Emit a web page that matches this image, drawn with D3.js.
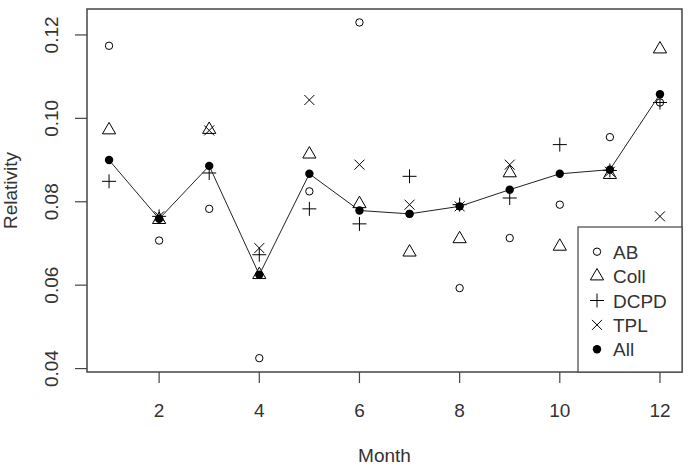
<!DOCTYPE html>
<html><head><meta charset="utf-8">
<script src="https://cdn.jsdelivr.net/npm/d3@7"></script>
<style>body{margin:0;background:#fff}svg{display:block}text{font-family:"Liberation Sans",Arial,sans-serif;fill:#333}</style>
</head><body><svg id="c" width="688" height="465"></svg>
<script>
const months = [1,2,3,4,5,6,7,8,9,10,11,12];
const AB   = [0.1174,0.0707,0.0783,0.0425,0.0825,0.1230,0.0771,0.0593,0.0713,0.0793,0.0955,0.1038];
const Coll = [0.0972,0.0757,0.0973,0.0625,0.0914,0.0795,0.0679,0.0711,0.0869,0.0693,0.0865,0.1166];
const DCPD = [0.0849,0.0765,0.0869,0.0673,0.0783,0.0747,0.0861,0.0793,0.0809,0.0937,0.0875,0.1038];
const TPL  = [null,0.0765,0.0971,0.0689,0.1044,0.0889,0.0793,0.0789,0.0889,null,0.0872,0.0765];
const All  = [0.0900,0.0759,0.0886,0.0625,0.0867,0.0779,0.0771,0.0789,0.0829,0.0867,0.0877,0.1058];
const xTicks = [2,4,6,8,10,12];
const yTicks = [0.04,0.06,0.08,0.10,0.12];
const seriesNames = ["AB","Coll","DCPD","TPL","All"];

const svg = d3.select("#c");
const L=87, R=682, T=9, B=372;
const x = d3.scaleLinear().domain([0.56,12.44]).range([L,R]);
const y = d3.scaleLinear().domain([0.03918,0.12622]).range([B,T]);
const FS = 19;

function sym(g, type, cx, cy){
  if(type==="AB") g.append("circle").attr("cx",cx).attr("cy",cy).attr("r",3.7).attr("fill","none").attr("stroke","#000").attr("stroke-width",1);
  else if(type==="Coll"){
    const s=6.6, h=s*Math.sqrt(3);
    const pts=[[cx,cy-h*2/3],[cx-s,cy+h/3],[cx+s,cy+h/3]];
    g.append("path").attr("d","M"+pts.map(p=>p.join(",")).join("L")+"Z").attr("fill","none").attr("stroke","#000").attr("stroke-width",1);
  } else if(type==="DCPD"){
    const s=7;
    g.append("path").attr("d",`M${cx-s},${cy}L${cx+s},${cy}M${cx},${cy-s}L${cx},${cy+s}`).attr("stroke","#000").attr("stroke-width",1);
  } else if(type==="TPL"){
    const s=5;
    g.append("path").attr("d",`M${cx-s},${cy-s}L${cx+s},${cy+s}M${cx-s},${cy+s}L${cx+s},${cy-s}`).attr("stroke","#000").attr("stroke-width",1);
  } else {
    g.append("circle").attr("cx",cx).attr("cy",cy).attr("r",4.2).attr("fill","#000");
  }
}

const data = {AB, Coll, DCPD, TPL, All};
const pg = svg.append("g");
["AB","Coll","DCPD","TPL"].forEach(n=>{
  months.forEach((m,i)=>{ if(data[n][i]!=null) sym(pg,n,x(m),y(data[n][i])); });
});
pg.append("path").datum(months.map((m,i)=>[m,All[i]]))
  .attr("d",d3.line().x(d=>x(d[0])).y(d=>y(d[1])))
  .attr("fill","none").attr("stroke","#222").attr("stroke-width",1);
months.forEach((m,i)=>sym(pg,"All",x(m),y(All[i])));

svg.append("rect").attr("x",L).attr("y",T).attr("width",R-L).attr("height",B-T)
  .attr("fill","none").attr("stroke","#444").attr("stroke-width",1.5);

const xa = svg.append("g");
xTicks.forEach(t=>{
  xa.append("line").attr("x1",x(t)).attr("x2",x(t)).attr("y1",B).attr("y2",B+11).attr("stroke","#444").attr("stroke-width",1.2);
  xa.append("text").attr("x",x(t)).attr("y",417).attr("text-anchor","middle").attr("font-size",FS).text(t);
});
const ya = svg.append("g");
yTicks.forEach(t=>{
  ya.append("line").attr("x1",L-12).attr("x2",L).attr("y1",y(t)).attr("y2",y(t)).attr("stroke","#444").attr("stroke-width",1.2);
  ya.append("text").attr("transform",`translate(58,${y(t)}) rotate(-90)`).attr("text-anchor","middle").attr("font-size",FS).text(t.toFixed(2));
});
svg.append("text").attr("x",(L+R)/2).attr("y",462).attr("text-anchor","middle").attr("font-size",FS).text("Month");
svg.append("text").attr("transform",`translate(17,${(T+B)/2}) rotate(-90)`).attr("text-anchor","middle").attr("font-size",FS).text("Relativity");

const lg = svg.append("g");
lg.append("rect").attr("x",578).attr("y",227).attr("width",R-578).attr("height",B-227)
  .attr("fill","#fff").attr("stroke","#444").attr("stroke-width",1.2);
seriesNames.forEach((n,i)=>{
  const cy = 251.7 + i*24.4;
  sym(lg,n,597,cy);
  lg.append("text").attr("x",613).attr("y",cy+7).attr("font-size",FS).text(n);
});
</script></body></html>
